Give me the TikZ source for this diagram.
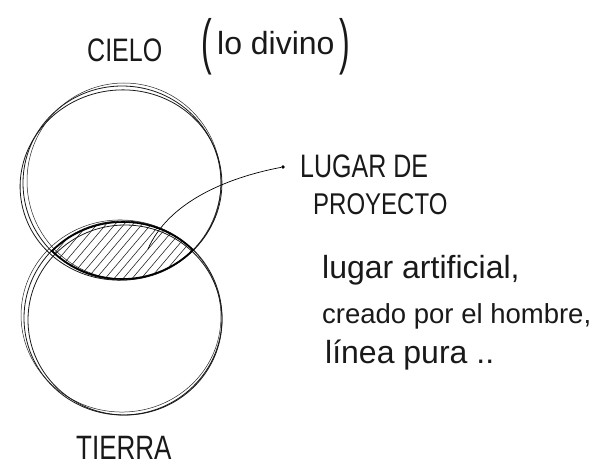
\documentclass[tikz,border=0pt]{standalone}
\usepackage{fontspec}
\setmainfont{Liberation Sans}
\usepackage{graphicx}
\newcommand\mytall[2][1.3]{\scalebox{1}[#1]{#2}}
\begin{document}
\begin{tikzpicture}[x=1pt,y=1pt,
  pen/.style={line width=0.8pt, black!90},
  thinpen/.style={line width=0.5pt, black!85},
  hatchpen/.style={line width=0.55pt, black!90},
  lbl/.style={inner sep=0pt, anchor=base west, text=black!90},
  dotmark/.style={circle, fill=black, inner sep=1.3pt}]
\useasboundingbox[fill=white] (0,0) rectangle (604,-473);

% upper circle (cielo)
\draw[pen] (122,-183) ellipse [x radius=99, y radius=97];
\draw[thinpen] (124,-181) ellipse [x radius=97, y radius=98];
\draw[pen] (121,-185) ellipse [x radius=101, y radius=95, rotate=8];
% lower circle (tierra)
\draw[pen] (123,-318) ellipse [x radius=99, y radius=97];
\draw[thinpen] (121,-316) ellipse [x radius=100, y radius=96, rotate=-6];
\draw[pen] (125,-320) ellipse [x radius=97, y radius=95];

% hatched lens
\begin{scope}
  \clip (122,-183) ellipse [x radius=100, y radius=97];
  \clip (123,-318) ellipse [x radius=100, y radius=97];
  \foreach \i in {-120,-111,...,260}
    \draw[hatchpen] (\i,-300) -- ++(110,130);
\end{scope}
\begin{scope}
  \clip (123,-318) ellipse [x radius=100, y radius=97];
  \draw[line width=1.6pt] (122,-183) ellipse [x radius=99, y radius=96];
\end{scope}
\begin{scope}
  \clip (122,-183) ellipse [x radius=100, y radius=97];
  \draw[line width=1.6pt] (123,-318) ellipse [x radius=99, y radius=96];
\end{scope}

% leader
\node[dotmark] (dot) at (283,-167) {};
\coordinate (tip) at (148,-249);
\draw[line width=0.7pt] (dot) .. controls (225,-178) and (168,-203) .. (tip);

% texts
\node[lbl, font=\fontsize{25}{25}\selectfont] (cielo) at (87,-62) {\mytall{CIELO}};
\node[lbl, font=\fontsize{32}{32}\selectfont] (divino) at (201,-55)
  {\raisebox{-8pt}{\scalebox{1}[1.9]{(}}\,lo divino\,\raisebox{-8pt}{\scalebox{1}[1.9]{)}}};
\node[lbl, font=\fontsize{25}{25}\selectfont] (lugar) at (300,-177) {\mytall{LUGAR DE}};
\node[lbl, font=\fontsize{24}{24}\selectfont] (proy) at (313,-214) {\mytall[1.25]{PROYECTO}};
\node[lbl, font=\fontsize{26}{26}\selectfont] (tierra) at (76,-459) {\mytall{TIERRA}};
\node[lbl, font=\fontsize{32}{32}\selectfont] (t1) at (322,-278) {lugar artificial,};
\node[lbl, font=\fontsize{27.5}{28}\selectfont] (t2) at (322,-323) {creado por el hombre,};
\node[lbl, font=\fontsize{32}{32}\selectfont] (t3) at (325,-363) {línea pura ..};
\end{tikzpicture}
\end{document}
